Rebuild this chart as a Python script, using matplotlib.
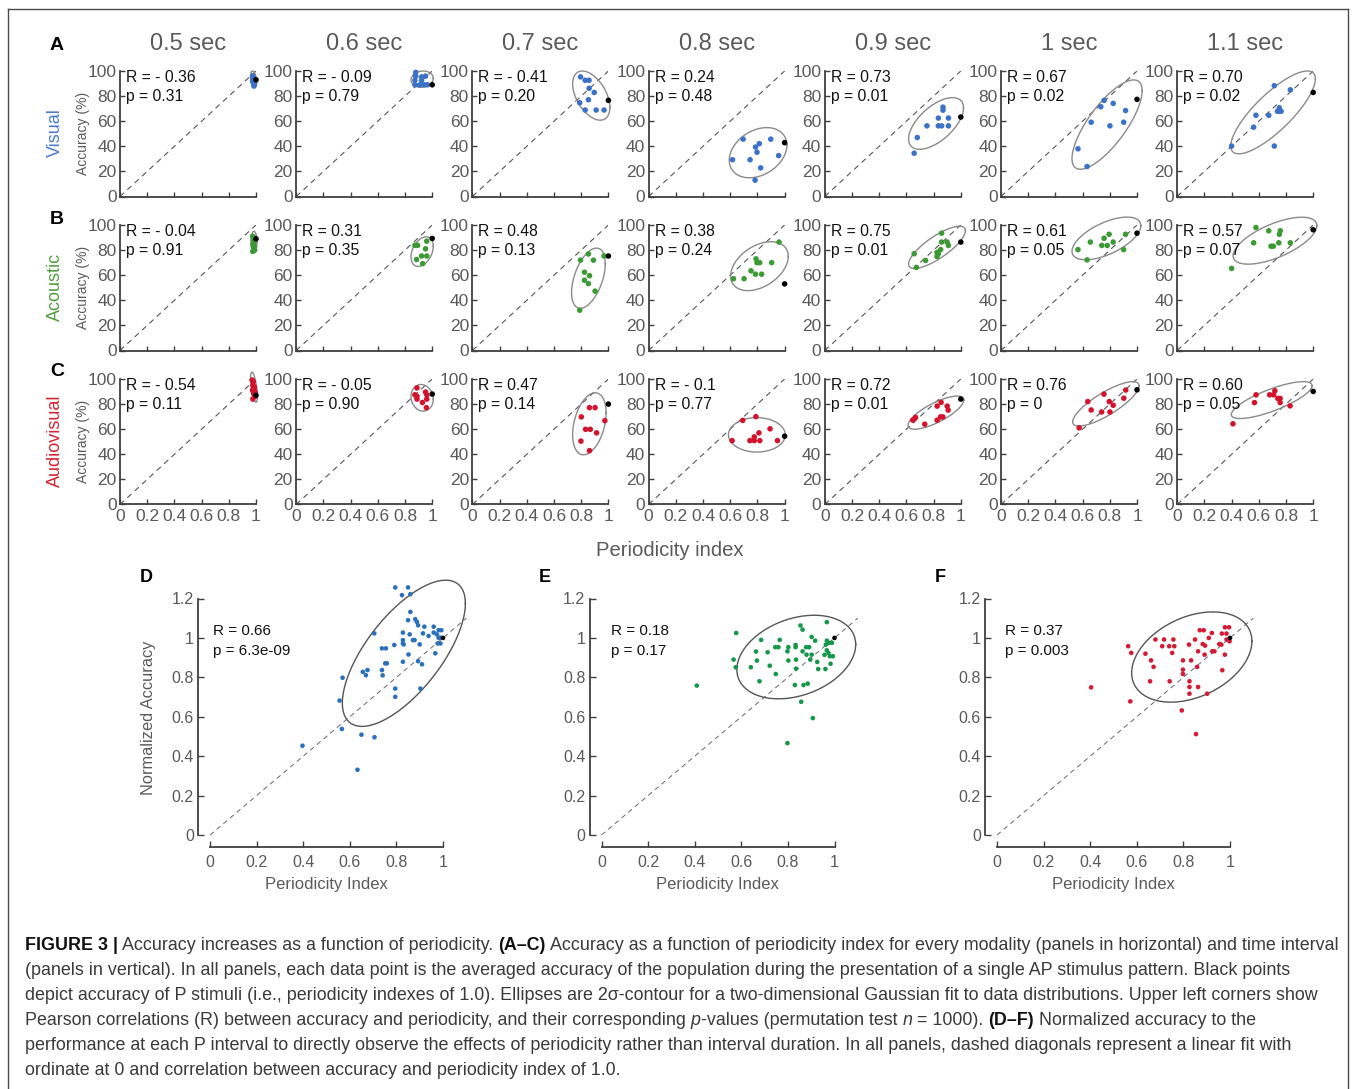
import numpy as np
import matplotlib
matplotlib.use("Agg")
import matplotlib.pyplot as plt
from matplotlib import font_manager
from matplotlib.lines import Line2D
from matplotlib.ticker import FuncFormatter, FixedLocator
from matplotlib.font_manager import FontProperties

# ---------------- data ----------------
intervals = ["0.5 sec", "0.6 sec", "0.7 sec", "0.8 sec", "0.9 sec", "1 sec", "1.1 sec"]
modalities = ["Visual", "Acoustic", "Audiovisual"]

visual_pi = [
    [0.975, 0.98, 0.985, 0.975, 0.98, 0.99, 0.985, 0.98, 0.975, 0.985],
    [0.879, 0.879, 0.922, 0.951, 0.873, 0.922, 0.873, 0.908, 0.942, 0.965],
    [0.795, 0.829, 0.858, 0.858, 0.896, 0.853, 0.789, 0.829, 0.91, 0.968],
    [0.617, 0.695, 0.746, 0.786, 0.797, 0.814, 0.824, 0.783, 0.898, 0.956],
    [0.657, 0.68, 0.751, 0.835, 0.835, 0.859, 0.869, 0.869, 0.909, 0.909],
    [0.566, 0.633, 0.663, 0.734, 0.758, 0.801, 0.825, 0.902, 0.916],
    [0.4, 0.562, 0.579, 0.673, 0.714, 0.714, 0.751, 0.751, 0.737, 0.764, 0.832],
]
visual_acc = [
    [96, 95, 93, 92, 91, 90, 89, 94, 92, 88],
    [98.9, 95.9, 95.3, 95.9, 92.6, 92.6, 89, 89, 89, 89],
    [95.3, 92.6, 92.6, 86.2, 82.9, 77.1, 74.7, 68.9, 68.9, 68.9],
    [29.3, 45.7, 29.3, 39.4, 35.3, 42.1, 22.8, 13, 45.7, 32.6],
    [34.5, 47, 56.3, 62.5, 56.3, 56.3, 71.2, 68.8, 62.5, 56.3],
    [38, 23.9, 59.2, 71.5, 76.6, 56.3, 74.2, 59.2, 68.5],
    [40.2, 55.2, 64.7, 64.7, 88.3, 40.2, 70.7, 67.9, 67.9, 67.9, 85],
]
visual_p_acc = [93, 89, 76.6, 42.9, 63.3, 77.4, 82.9]

acoustic_pi = [
    [0.975, 0.98, 0.985, 0.978, 0.983, 0.99, 0.976, 0.985, 0.98, 0.988],
    [0.873, 0.893, 0.96, 0.951, 0.885, 0.922, 0.96, 0.93],
    [0.795, 0.853, 0.89, 0.824, 0.861, 0.824, 0.853, 0.902, 0.789, 0.968],
    [0.624, 0.702, 0.753, 0.79, 0.797, 0.817, 0.786, 0.831, 0.905, 0.959],
    [0.657, 0.673, 0.741, 0.825, 0.825, 0.852, 0.859, 0.859, 0.899, 0.909, 0.835],
    [0.566, 0.633, 0.657, 0.741, 0.758, 0.795, 0.781, 0.825, 0.902, 0.916],
    [0.4, 0.562, 0.579, 0.673, 0.707, 0.69, 0.747, 0.751, 0.758, 0.832],
]
acoustic_acc = [
    [91, 88, 86, 84, 82, 80, 79, 90, 85, 83],
    [83.8, 83.8, 87.1, 81.0, 72.5, 75.3, 75.3, 69.2],
    [72, 76.9, 72, 62.4, 59.6, 56, 53.3, 47.3, 32.1, 75.3],
    [57.2, 57.2, 63.5, 73, 70, 70, 60.8, 60.8, 70, 86.4],
    [77.1, 66.2, 71.7, 74.9, 78.2, 80.4, 86.4, 93.5, 86.4, 83.7, 77.1],
    [80.4, 72.2, 86.4, 83.7, 89.4, 92.6, 83.7, 86.4, 80.4, 92.6],
    [65.4, 85.8, 98, 95.4, 83.1, 83.1, 85.8, 92.6, 95.4, 85.8],
]
acoustic_p_acc = [89, 89.3, 75.3, 53.1, 86.4, 93.5, 96.2]

av_pi = [
    [0.971, 0.977, 0.986, 0.994, 0.98, 0.977, 0.983, 0.988, 0.994, 0.974],
    [0.888, 0.873, 0.888, 0.888, 0.951, 0.96, 0.96, 0.928, 0.957],
    [0.801, 0.861, 0.902, 0.832, 0.867, 0.913, 0.798, 0.861, 0.974],
    [0.614, 0.692, 0.745, 0.777, 0.777, 0.789, 0.811, 0.818, 0.893, 0.947],
    [0.647, 0.667, 0.735, 0.826, 0.855, 0.9, 0.907, 0.826, 0.851, 0.868],
    [0.575, 0.638, 0.663, 0.74, 0.757, 0.796, 0.825, 0.801, 0.903, 0.917],
    [0.41, 0.568, 0.58, 0.68, 0.709, 0.718, 0.74, 0.757, 0.757, 0.83],
]
av_acc = [
    [99.2, 95.1, 92.3, 89.6, 97.8, 84, 88.2, 93.7, 86.3, 91],
    [92.9, 87.4, 86.3, 84, 89.6, 87.4, 84, 81.3, 77.2],
    [69.8, 77.2, 77.2, 59.9, 59.9, 57.1, 50.5, 42.9, 66.8],
    [50.9, 67, 50.9, 50.9, 53.9, 70, 57.1, 50.9, 60.3, 50.9],
    [67.2, 69.4, 64, 78.4, 81.4, 78.4, 75.2, 67.2, 69.8, 69.8],
    [61.1, 82, 75.3, 73.7, 87.9, 82, 79.1, 73.7, 84.7, 91.2],
    [64.3, 81.2, 87.4, 87.4, 87.4, 90.6, 84.5, 84.5, 81.2, 78.6],
]
av_p_acc = [87, 88, 80, 54.4, 84, 91.4, 90.1]

# 2-sigma ellipses: centre x, centre y, half width, half height, correlation
visual_ell = [(0.982, 93.5, 0.022, 6.5, -0.3), (0.926, 93.5, 0.082, 6.5, 0.1),
              (0.874, 80.4, 0.137, 19.6, -0.48), (0.805, 34.9, 0.212, 20.0, 0.3),
              (0.818, 58.2, 0.202, 20.6, 0.6), (0.78, 57.3, 0.258, 35.6, 0.76),
              (0.705, 67.0, 0.311, 33.0, 0.81)]
acoustic_ell = [(0.985, 86.5, 0.022, 8.5, 0.0), (0.926, 78.8, 0.082, 11.8, 0.36),
                (0.853, 57.6, 0.124, 24.0, 0.48), (0.815, 67.2, 0.212, 19.5, 0.4),
                (0.825, 82.2, 0.209, 16.8, 0.79), (0.775, 89.3, 0.253, 17.0, 0.6),
                (0.719, 87.5, 0.308, 18.7, 0.64)]
av_ell = [(0.985, 93.5, 0.025, 12.0, -0.6), (0.926, 85.0, 0.082, 10.6, -0.1),
          (0.86, 64.3, 0.123, 24.7, 0.35), (0.796, 55.5, 0.209, 13.7, 0.0),
          (0.817, 73.2, 0.205, 13.2, 0.76), (0.771, 80.2, 0.244, 17.7, 0.81),
          (0.695, 83.2, 0.297, 14.7, 0.78)]

visual_R = ["- 0.36", "- 0.09", "- 0.41", "0.24", "0.73", "0.67", "0.70"]
visual_p = ["0.31", "0.79", "0.20", "0.48", "0.01", "0.02", "0.02"]
acoustic_R = ["- 0.04", "0.31", "0.48", "0.38", "0.75", "0.61", "0.57"]
acoustic_p = ["0.91", "0.35", "0.13", "0.24", "0.01", "0.05", "0.07"]
av_R = ["- 0.54", "- 0.05", "0.47", "- 0.1", "0.72", "0.76", "0.60"]
av_p = ["0.11", "0.90", "0.14", "0.77", "0.01", "0", "0.05"]

small_xticks = [0, 0.2, 0.4, 0.6, 0.8, 1]
small_yticks = [0, 20, 40, 60, 80, 100]

D_x = [0.795, 0.850, 0.824, 0.86, 0.86, 0.85, 0.881, 0.888, 0.893, 0.705, 0.828, 0.914, 0.92, 0.96,
       0.857, 0.938, 0.96, 0.974, 0.981, 0.993, 0.828, 0.871, 0.878, 0.828, 0.831, 0.791, 0.9, 0.981,
       0.989, 0.977, 0.989, 0.738, 0.755, 0.852, 0.828, 0.893, 0.91, 0.967, 0.752, 0.759, 0.738, 0.741,
       0.656, 0.676, 0.669, 0.569, 0.795, 0.795, 0.903, 0.556, 0.566, 0.65, 0.706, 0.397, 0.633]
D_y = [1.256, 1.256, 1.217, 1.222, 1.132, 1.09, 1.095, 1.081, 1.064, 1.023, 1.027, 1.023, 1.057, 1.057,
       1.018, 1.01, 1.027, 1.018, 1.039, 1.039, 0.989, 0.989, 0.989, 0.972, 0.967, 0.964, 0.967, 1.001,
       1.001, 0.972, 0.972, 0.947, 0.947, 0.916, 0.879, 0.882, 0.866, 0.922, 0.871, 0.871, 0.837, 0.81,
       0.828, 0.837, 0.811, 0.798, 0.743, 0.701, 0.743, 0.682, 0.538, 0.509, 0.496, 0.453, 0.331]
E_x = [0.967, 0.854, 0.863, 0.578, 0.685, 0.765, 0.902, 0.917, 0.967, 0.989, 0.976, 0.963, 0.746,
       0.759, 0.802, 0.833, 0.833, 0.878, 0.891, 0.663, 0.713, 0.798, 0.863, 0.967, 0.974, 0.957, 0.880,
       0.902, 0.98, 0.993, 0.567, 0.667, 0.802, 0.835, 0.896, 0.926, 0.983, 0.576, 0.641, 0.722, 0.835,
       0.93, 0.961, 0.748, 0.678, 0.409, 0.83, 0.867, 0.885, 0.857, 0.907, 0.798]
E_y = [1.08, 1.063, 1.042, 1.025, 0.99, 0.99, 1.005, 0.986, 0.986, 0.975, 0.975, 0.966, 0.953, 0.953,
       0.953, 0.964, 0.953, 0.953, 0.953, 0.931, 0.927, 0.932, 0.932, 0.937, 0.924, 0.914, 0.915, 0.915,
       0.907, 0.907, 0.89, 0.885, 0.885, 0.89, 0.89, 0.878, 0.869, 0.851, 0.851, 0.859, 0.844, 0.842,
       0.842, 0.817, 0.78, 0.758, 0.761, 0.761, 0.768, 0.676, 0.593, 0.466]
F_x = [0.978, 0.996, 0.870, 0.887, 0.922, 0.965, 0.985, 0.985, 0.998, 0.680, 0.717, 0.757, 0.85, 0.909,
       0.824, 0.883, 0.893, 0.954, 0.963, 0.563, 0.709, 0.739, 0.761, 0.863, 0.924, 0.933, 0.576, 0.637,
       0.752, 0.891, 0.978, 0.661, 0.798, 0.833, 0.672, 0.859, 0.798, 0.798, 0.967, 0.657, 0.741, 0.826,
       0.826, 0.863, 0.404, 0.826, 0.902, 0.572, 0.793, 0.854]
F_y = [1.054, 1.054, 1.039, 1.039, 1.025, 1.022, 1.022, 0.992, 0.983, 0.992, 0.992, 0.992, 0.992, 1.0,
       0.966, 0.969, 0.961, 0.969, 0.966, 0.958, 0.958, 0.958, 0.958, 0.932, 0.932, 0.932, 0.924, 0.92,
       0.924, 0.915, 0.915, 0.886, 0.886, 0.886, 0.853, 0.853, 0.839, 0.817, 0.836, 0.78, 0.78, 0.78,
       0.751, 0.751, 0.749, 0.717, 0.717, 0.678, 0.632, 0.512]
bottom_ell = [(0.832, 0.922, 0.264, 0.371, 0.68), (0.836, 0.903, 0.255, 0.212, 0.30),
              (0.836, 0.903, 0.258, 0.229, 0.35)]
bottom_R = ["0.66", "0.18", "0.37"]
bottom_p = ["6.3e-09", "0.17", "0.003"]
bottom_letters = ["D", "E", "F"]
big_xticks = [0, 0.2, 0.4, 0.6, 0.8, 1]
big_yticks = [0, 0.2, 0.4, 0.6, 0.8, 1, 1.2]
diag_pi = [0, 1]

caption_lines = [
    [("FIGURE 3 |", "bold", "normal"), (" Accuracy increases as a function of periodicity. ", "normal", "normal"),
     ("(A\u2013C)", "bold", "normal"),
     (" Accuracy as a function of periodicity index for every modality (panels in horizontal) and time interval", "normal", "normal")],
    [("(panels in vertical). In all panels, each data point is the averaged accuracy of the population during the presentation of a single AP stimulus pattern. Black points", "normal", "normal")],
    [("depict accuracy of P stimuli (i.e., periodicity indexes of 1.0). Ellipses are 2\u03c3-contour for a two-dimensional Gaussian fit to data distributions. Upper left corners show", "normal", "normal")],
    [("Pearson correlations (R) between accuracy and periodicity, and their corresponding ", "normal", "normal"),
     ("p", "normal", "italic"), ("-values (permutation test ", "normal", "normal"), ("n", "normal", "italic"),
     (" = 1000). ", "normal", "normal"), ("(D\u2013F)", "bold", "normal"),
     (" Normalized accuracy to the", "normal", "normal")],
    [("performance at each P interval to directly observe the effects of periodicity rather than interval duration. In all panels, dashed diagonals represent a linear fit with", "normal", "normal")],
    [("ordinate at 0 and correlation between accuracy and periodicity index of 1.0.", "normal", "normal")],
]

# ---------------- styling ----------------
W, H = 1354, 1089
names = {f.name for f in font_manager.fontManager.ttflist}
BASE = "Liberation Sans" if "Liberation Sans" in names else "DejaVu Sans"
plt.rcParams["font.family"] = [BASE, "DejaVu Sans"]

fig = plt.figure(figsize=(W / 100, H / 100), dpi=100)
fig.patch.set_facecolor("white")


def fx(x):
    return x / W


def fy(y):
    return 1 - y / H


SPINE = "#3f3f3f"
TICKC = "#595959"
ELLC = "#8a8a8a"
mod_colors = ["#3b72c8", "#3c9a34", "#d3132d"]
label_colors = ["#4a7bcb", "#4e9e3c", "#d42330"]
big_colors = ["#2a70bb", "#15974a", "#d41a34"]


def draw_ellipse(ax, cx, cy, hw, hh, rho, **kw):
    t = np.linspace(0, 2 * np.pi, 240)
    x = cx + hw * np.cos(t)
    y = cy + hh * (rho * np.cos(t) + np.sqrt(1 - rho ** 2) * np.sin(t))
    ax.plot(x, y, clip_on=False, **kw)


fmt = FuncFormatter(lambda v, p: f"{v:g}")

# ---------------- small panels ----------------
col_x0 = [120 + 176.2 * i for i in range(7)]
row_top = [71, 225, 379]
PW, PH = 136, 125.5
all_pi = [visual_pi, acoustic_pi, av_pi]
all_acc = [visual_acc, acoustic_acc, av_acc]
all_pacc = [visual_p_acc, acoustic_p_acc, av_p_acc]
all_ell = [visual_ell, acoustic_ell, av_ell]
all_R = [visual_R, acoustic_R, av_R]
all_p = [visual_p, acoustic_p, av_p]

for r in range(3):
    for c in range(7):
        x0, top = col_x0[c], row_top[r]
        ax = fig.add_axes([fx(x0), fy(top + PH), PW / W, PH / H])
        ax.set_xlim(0, 1)
        ax.set_ylim(0, 100)
        ax.plot(diag_pi, [0, 100], ls=(0, (5, 4)), color="#555555", lw=0.8, zorder=1)
        draw_ellipse(ax, *all_ell[r][c], color=ELLC, lw=1.0, zorder=2)
        ax.scatter(all_pi[r][c], all_acc[r][c], s=16, color=mod_colors[r], edgecolors="none",
                   zorder=3, clip_on=False)
        ax.scatter([1], [all_pacc[r][c]], s=16, color="black", edgecolors="none", zorder=4,
                   clip_on=False)
        for s in ["top", "right"]:
            ax.spines[s].set_visible(False)
        for s in ["left", "bottom"]:
            ax.spines[s].set_color(SPINE)
            ax.spines[s].set_linewidth(1.3)
        ax.xaxis.set_major_locator(FixedLocator(small_xticks))
        ax.yaxis.set_major_locator(FixedLocator(small_yticks))
        ax.xaxis.set_major_formatter(fmt)
        ax.yaxis.set_major_formatter(fmt)
        ax.tick_params(direction="in", length=3.5, width=1, color=SPINE, labelcolor=TICKC,
                       labelsize=12.5, pad=2.5)
        ax.tick_params(axis="x", labelbottom=(r == 2), pad=3.5)
        fig.text(fx(x0 + 6), fy(top + 6), f"R = {all_R[r][c]}", fontsize=11.3, color="#111111",
                 va="center", ha="left")
        fig.text(fx(x0 + 6), fy(top + 25), f"p = {all_p[r][c]}", fontsize=11.3, color="#111111",
                 va="center", ha="left")
        if r == 0:
            fig.text(fx(x0 + 68), fy(44), intervals[c], fontsize=17, color="#5a5a5a",
                     ha="center", va="center")
    fig.text(fx(55), fy(row_top[r] + 62), modalities[r], rotation=90, fontsize=13,
             color=label_colors[r], ha="center", va="center")
    fig.text(fx(83), fy(row_top[r] + 62), "Accuracy (%)", rotation=90, fontsize=10,
             color="#5a5a5a", ha="center", va="center")

for letter, (lx, ly) in zip(["A", "B", "C"], [(57, 46), (57, 219), (57, 372)]):
    fig.text(fx(lx), fy(ly), letter, fontsize=14, fontweight="bold", color="black",
             ha="center", va="center")

fig.text(fx(670), fy(551), "Periodicity index", fontsize=14.6, color="#5a5a5a", ha="center",
         va="center")

# ---------------- bottom panels ----------------
big_x0 = [210, 601.5, 997]
BTOP, BW, BH = 598.5, 233, 236.5
big_x = [D_x, E_x, F_x]
big_y = [D_y, E_y, F_y]
rtext_x = [213, 611, 1005]
letter_x = [146, 545, 940]
off = 12 * 72 / 100
for i in range(3):
    x0 = big_x0[i]
    ax = fig.add_axes([fx(x0), fy(BTOP + BH), BW / W, BH / H])
    ax.set_xlim(0, 1)
    ax.set_ylim(0, 1.2)
    ax.plot([0, 1.1], [0, 1.1], ls=(0, (5, 4)), color="#666666", lw=0.7, zorder=1, clip_on=False)
    draw_ellipse(ax, *bottom_ell[i], color="#555555", lw=1.0, zorder=2)
    ax.scatter(big_x[i], big_y[i], s=11, color=big_colors[i], edgecolors="none", zorder=3,
               clip_on=False)
    ax.scatter([1], [1], s=11, color="black", edgecolors="none", zorder=4, clip_on=False)
    for s in ["top", "right"]:
        ax.spines[s].set_visible(False)
    for s in ["left", "bottom"]:
        ax.spines[s].set_color(SPINE)
        ax.spines[s].set_linewidth(1.3)
        ax.spines[s].set_position(("outward", off))
    ax.spines["left"].set_bounds(0, 1.2)
    ax.spines["bottom"].set_bounds(0, 1)
    ax.xaxis.set_major_locator(FixedLocator(big_xticks))
    ax.yaxis.set_major_locator(FixedLocator(big_yticks))
    ax.xaxis.set_major_formatter(fmt)
    ax.yaxis.set_major_formatter(fmt)
    ax.tick_params(direction="in", length=4, width=1, color=SPINE, labelcolor=TICKC,
                   labelsize=11.5, pad=3)
    ax.tick_params(axis="x", pad=6)
    fig.text(fx(x0 + 116), fy(884), "Periodicity Index", fontsize=12, color="#5a5a5a",
             ha="center", va="center")
    fig.text(fx(rtext_x[i]), fy(631), f"R = {bottom_R[i]}", fontsize=11, color="#111111",
             ha="left", va="center")
    fig.text(fx(rtext_x[i]), fy(651), f"p = {bottom_p[i]}", fontsize=11, color="#111111",
             ha="left", va="center")
    fig.text(fx(letter_x[i]), fy(578), bottom_letters[i], fontsize=13, fontweight="bold",
             color="black", ha="center", va="center")

fig.text(fx(148), fy(718), "Normalized Accuracy", rotation=90, fontsize=11.8, color="#5a5a5a",
         ha="center", va="center")

# ---------------- frame ----------------
for (xa, ya, xb, yb) in [(8, 9, 1348, 9), (8, 9, 8, 1095), (1348, 9, 1348, 1095)]:
    fig.add_artist(Line2D([fx(xa), fx(xb)], [fy(ya), fy(yb)], transform=fig.transFigure,
                          color="#4a4a4a", lw=1.0))

# ---------------- caption ----------------
renderer = fig.canvas.get_renderer()


def seg_width(txt, size, weight, style):
    fp = FontProperties(family=BASE, size=size, weight=weight, style=style)
    w1, _, _ = renderer.get_text_width_height_descent(txt + "x", fp, ismath=False)
    w2, _, _ = renderer.get_text_width_height_descent("x", fp, ismath=False)
    return w1 - w2


target = 1296 - 25
w_ref = sum(seg_width(t, 10, wgt, st) for t, wgt, st in caption_lines[1])
cap_size = 10 * target / w_ref

for li, line in enumerate(caption_lines):
    x = 25
    yb = 950 + 25 * li
    for t, wgt, st in line:
        col = "#111111" if wgt == "bold" else "#3a3a3a"
        fig.text(fx(x), fy(yb), t, fontsize=cap_size, fontweight=wgt, fontstyle=st, color=col,
                 ha="left", va="baseline", family=BASE)
        x += seg_width(t, cap_size, wgt, st)

fig.savefig("out.png", dpi=100, facecolor="white")
